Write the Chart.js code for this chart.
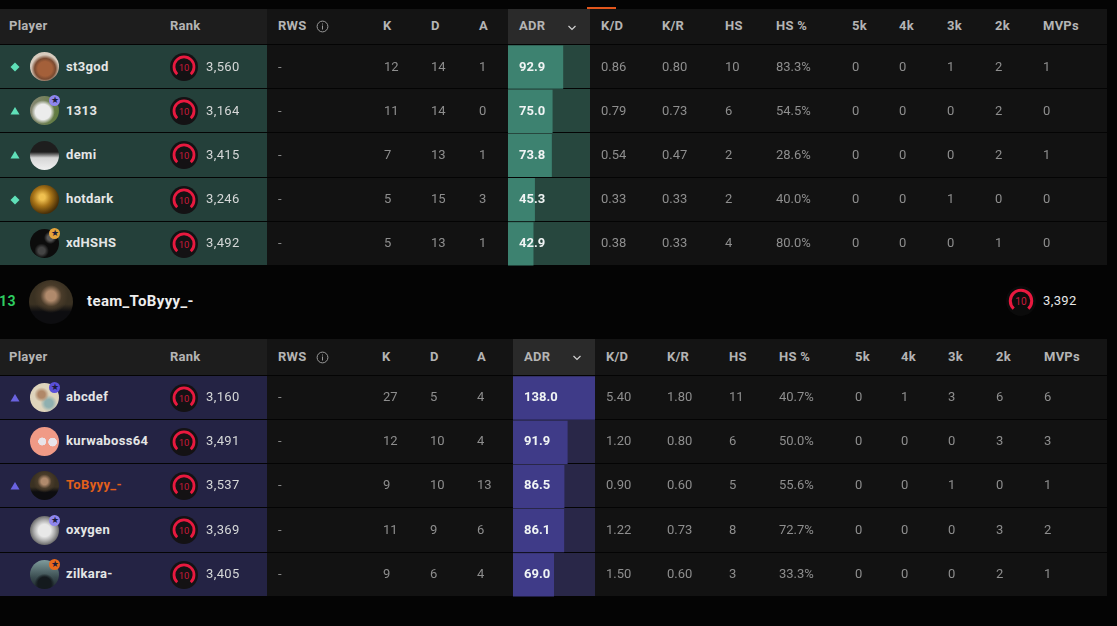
<!DOCTYPE html>
<html>
<head>
<meta charset="utf-8">
<script src="https://cdn.jsdelivr.net/npm/chart.js@4/dist/chart.umd.min.js"></script>
<style>
  html, body { margin: 0; padding: 0; background: #040404; }
  #page { position: relative; width: 1117px; height: 626px; overflow: hidden; font-family: Roboto, sans-serif; font-size: 13px; }
  #page div, #page svg, #page canvas { position: absolute; }
  .txt { white-space: nowrap; line-height: 16px; color: #8e8e8e; z-index: 5; }
  .head { color: #b4b4b4; font-weight: 700; letter-spacing: 0.25px; }
  .name { color: #e4e6e6; font-weight: 700; letter-spacing: 0.35px; }
  .rank { color: #d6d8d8; letter-spacing: 0.4px; }
  .adr { color: #f0f4f4; font-weight: 700; }
  .avatar { border-radius: 50%; }
  .badge { border-radius: 50%; z-index: 3; color: #1b1b3a; font-size: 9px; line-height: 11px; text-align: center; }
</style>
</head>
<body>
<div id="page"></div>
<script>
// top team
const topPlayers = ["st3god", "1313", "demi", "hotdark", "xdHSHS"];
const topRanks = ["3,560", "3,164", "3,415", "3,246", "3,492"];
const topKills = [12, 11, 7, 5, 5];
const topDeaths = [14, 14, 13, 15, 13];
const topAssists = [1, 0, 1, 3, 1];
const topAdr = [92.9, 75.0, 73.8, 45.3, 42.9];
const topKd = ["0.86", "0.79", "0.54", "0.33", "0.38"];
const topKr = ["0.80", "0.73", "0.47", "0.33", "0.33"];
const topHs = [10, 6, 2, 2, 4];
const topHsPct = ["83.3%", "54.5%", "28.6%", "40.0%", "80.0%"];
const top5k = [0, 0, 0, 0, 0];
const top4k = [0, 0, 0, 0, 0];
const top3k = [1, 0, 0, 1, 0];
const top2k = [2, 2, 2, 0, 1];
const topMvps = [1, 0, 1, 0, 0];
const topMarks = ["diamond", "up", "up", "diamond", ""];

// bottom team
const botPlayers = ["abcdef", "kurwaboss64", "ToByyy_-", "oxygen", "zilkara-"];
const botRanks = ["3,160", "3,491", "3,537", "3,369", "3,405"];
const botKills = [27, 12, 9, 11, 9];
const botDeaths = [5, 10, 10, 9, 6];
const botAssists = [4, 4, 13, 6, 4];
const botAdr = [138.0, 91.9, 86.5, 86.1, 69.0];
const botKd = ["5.40", "1.20", "0.90", "1.22", "1.50"];
const botKr = ["1.80", "0.80", "0.60", "0.73", "0.60"];
const botHs = [11, 6, 5, 8, 3];
const botHsPct = ["40.7%", "50.0%", "55.6%", "72.7%", "33.3%"];
const bot5k = [0, 0, 0, 0, 0];
const bot4k = [1, 0, 0, 0, 0];
const bot3k = [3, 0, 1, 0, 0];
const bot2k = [6, 3, 0, 3, 2];
const botMvps = [6, 3, 1, 2, 1];
const botMarks = ["up", "", "up", "", ""];

const headers = ["Player", "Rank", "RWS", "K", "D", "A", "ADR", "K/D", "K/R", "HS", "HS %", "5k", "4k", "3k", "2k", "MVPs"];
const teamName = "team_ToByyy_-";
const teamScore = "13";
const teamRank = "3,392";
const adrMax = 138;

// looks of the little pictures, keyed by player
const tobyLook = "radial-gradient(circle at 50% 36%,#b08a6c 0 14%,#4a3c2a 30%,transparent 48%),linear-gradient(#3a3122 0 55%,#0d0d10 72%)";
const avatarLook = {
  "st3god": "radial-gradient(circle at 52% 58%,#a4603a 0 32%,#7a4a30 46%,transparent 62%),#d8ccbe",
  "1313": "radial-gradient(circle at 45% 55%,#ececec 0 34%,transparent 52%),linear-gradient(100deg,#8a8878,#5c7a3a)",
  "demi": "linear-gradient(#1e1e1e 0 38%,#d6d6d6 58%,#f0f0f0)",
  "hotdark": "radial-gradient(circle at 42% 42%,#efc050 0 12%,#a87418 38%,#4a3008 70%,#201404)",
  "xdHSHS": "radial-gradient(circle at 70% 30%,#555 0 10%,transparent 22%),radial-gradient(circle at 40% 75%,#444 0 12%,transparent 26%),#0c0c0c",
  "abcdef": "radial-gradient(circle at 40% 40%,#b08868 0 14%,transparent 30%),radial-gradient(circle at 65% 70%,#8fb0b0 0 14%,transparent 30%),#ded4bc",
  "kurwaboss64": "radial-gradient(circle at 42% 50%,#e8e4ea 0 17%,transparent 19%),radial-gradient(circle at 78% 52%,#e8e4ea 0 15%,transparent 17%),#f09a86",
  "ToByyy_-": tobyLook,
  "oxygen": "radial-gradient(circle at 50% 50%,#e8e8e8 0 30%,#b0b0b0 50%,#3a3a3a 85%)",
  "zilkara-": "radial-gradient(circle at 50% 82%,#141a1e 0 24%,transparent 36%),linear-gradient(#7f9c9c,#3a4c50 60%,#1c2428)"
};
const badgeLook = { "1313": "#8f86ee", "xdHSHS": "#e6a53c", "abcdef": "#5a4fd8", "oxygen": "#8f86ee", "zilkara-": "#e8691c" };

const page = document.getElementById("page");

function add(cls, x, y, text, css) {
  const d = document.createElement("div");
  d.className = cls;
  d.style.left = x + "px";
  d.style.top = y + "px";
  if (text !== undefined && text !== null) d.textContent = text;
  if (css) d.style.cssText += css;
  page.appendChild(d);
  return d;
}

function box(x, y, w, h, color) {
  return add("", x, y, null, "width:" + w + "px;height:" + h + "px;background:" + color);
}

function rankIcon(cx, cy, size, disc) {
  const s = document.createElementNS("http://www.w3.org/2000/svg", "svg");
  s.setAttribute("width", size);
  s.setAttribute("height", size);
  s.setAttribute("viewBox", "0 0 28 28");
  s.style.left = (cx - size / 2) + "px";
  s.style.top = (cy - size / 2) + "px";
  s.style.zIndex = 3;
  s.innerHTML = '<circle cx="14" cy="14" r="14" fill="' + disc + '"/>' +
    '<path d="M7.2 21.2 A10 10 0 1 1 20.8 21.2" fill="none" stroke="#e8193f" stroke-width="2.8"/>' +
    '<text x="14" y="17.5" text-anchor="middle" font-family="Roboto" font-size="9.5" fill="#c81a3a">10</text>';
  page.appendChild(s);
}

function marker(kind, cx, cy, color) {
  if (!kind) return;
  const s = document.createElementNS("http://www.w3.org/2000/svg", "svg");
  s.setAttribute("width", 10);
  s.setAttribute("height", 10);
  s.style.left = (cx - 5) + "px";
  s.style.top = (cy - 5) + "px";
  const pts = kind === "diamond" ? "5,0.5 9.5,5 5,9.5 0.5,5" : "5,1 9.5,8.5 0.5,8.5";
  s.innerHTML = '<polygon points="' + pts + '" fill="' + color + '"/>';
  page.appendChild(s);
}

function infoIcon(cx, cy) {
  const s = document.createElementNS("http://www.w3.org/2000/svg", "svg");
  s.setAttribute("width", 13);
  s.setAttribute("height", 13);
  s.style.left = (cx - 6.5) + "px";
  s.style.top = (cy - 6.5) + "px";
  s.innerHTML = '<circle cx="6.5" cy="6.5" r="5.4" fill="none" stroke="#9a9a9a"/><rect x="6" y="5.5" width="1" height="4" fill="#9a9a9a"/><rect x="6" y="3.5" width="1" height="1" fill="#9a9a9a"/>';
  page.appendChild(s);
}

function chevron(cx, cy) {
  const s = document.createElementNS("http://www.w3.org/2000/svg", "svg");
  s.setAttribute("width", 10);
  s.setAttribute("height", 8);
  s.style.left = (cx - 5) + "px";
  s.style.top = (cy - 4) + "px";
  s.innerHTML = '<path d="M1.5 2 L5 5.5 L8.5 2" fill="none" stroke="#d0d0d0" stroke-width="1.2"/>';
  page.appendChild(s);
}

function drawTable(t) {
  // header band
  box(0, t.headTop, 267, t.headH, "#1d1d1d");
  box(267, t.headTop, 840, t.headH, "#141414");
  box(t.adrX, t.headTop, 82, t.headH, "#2a2a2a");
  const hy = Math.floor(t.headTop + t.headH / 2 - 8);
  headers.forEach(function (h, i) {
    add("txt head", t.cols[i], hy, h);
  });
  infoIcon(322, t.headTop + t.headH / 2);
  chevron(t.adrX + 64, t.headTop + t.headH / 2 + 1);

  // rows
  t.players.forEach(function (p, i) {
    const y = t.rowTops[i], h = t.rowTops[i + 1] - y - 1, mid = y + h / 2;
    const ty = t.textTops[i];
    box(0, y, 267, h, t.rowColor);
    box(267, y, 840, h, "#121212");
    box(t.adrX, y, 82, h, t.trackColor);
    marker(t.marks[i], 15, mid, t.markColor);
    add("avatar", 30, mid - 14.5, null, "width:29px;height:29px;background:" + avatarLook[p]);
    if (badgeLook[p]) add("badge", 49, mid - 15.5, "★", "width:11px;height:11px;background:" + badgeLook[p]);
    add("txt name", 66, ty, p, p === "ToByyy_-" ? "color:#e2601a" : "");
    rankIcon(184, mid, 28, "#141214");
    add("txt rank", 206, ty, t.ranks[i]);
    add("txt", 278, ty, "-");
    add("txt", t.cols[3] + 1, ty, t.kills[i]);
    add("txt", t.cols[4], ty, t.deaths[i]);
    add("txt", t.cols[5], ty, t.assists[i]);
    add("txt adr", t.cols[6], ty, t.adr[i].toFixed(1));
    add("txt", t.cols[7], ty, t.kd[i]);
    add("txt", t.cols[8], ty, t.kr[i]);
    add("txt", t.cols[9], ty, t.hs[i]);
    add("txt", t.cols[10], ty, t.hsPct[i]);
    add("txt", t.cols[11], ty, t.k5[i]);
    add("txt", t.cols[12], ty, t.k4[i]);
    add("txt", t.cols[13], ty, t.k3[i]);
    add("txt", t.cols[14], ty, t.k2[i]);
    add("txt", t.cols[15], ty, t.mvps[i]);
  });

  // ADR bars
  const top = t.rowTops[0], height = t.rowTops[5] - top;
  const c = document.createElement("canvas");
  c.style.left = t.adrX + "px";
  c.style.top = top + "px";
  c.style.zIndex = 2;
  c.width = 82;
  c.height = height;
  page.appendChild(c);
  new Chart(c.getContext("2d"), {
    type: "bar",
    data: {
      labels: t.players,
      datasets: [{
        label: "ADR",
        data: t.adr,
        backgroundColor: t.barColor,
        borderWidth: 0,
        categoryPercentage: 1,
        barPercentage: 0.977
      }]
    },
    options: {
      indexAxis: "y",
      responsive: false,
      animation: false,
      devicePixelRatio: 1,
      layout: { padding: 0 },
      plugins: { legend: { display: false }, tooltip: { enabled: false } },
      scales: {
        x: { display: false, min: 0, max: adrMax },
        y: { display: false }
      }
    }
  });
}

drawTable({
  headTop: 9, headH: 35, adrX: 508,
  cols: [9, 170, 278, 383, 431, 479, 519, 601, 662, 725, 776, 852, 899, 947, 995, 1043],
  rowTops: [45, 89, 133, 178, 222, 266],
  textTops: [59, 103, 147, 191, 235],
  rowColor: "#24403a", trackColor: "#27473e", barColor: "#3d8270", markColor: "#5fe0b8",
  players: topPlayers, ranks: topRanks, kills: topKills, deaths: topDeaths, assists: topAssists,
  adr: topAdr, kd: topKd, kr: topKr, hs: topHs, hsPct: topHsPct,
  k5: top5k, k4: top4k, k3: top3k, k2: top2k, mvps: topMvps,
  marks: topMarks
});

drawTable({
  headTop: 339, headH: 36, adrX: 513,
  cols: [9, 170, 278, 382, 430, 477, 524, 606, 667, 729, 779, 855, 901, 948, 996, 1044],
  rowTops: [376, 420, 464, 508, 553, 597],
  textTops: [389, 433, 477, 522, 566],
  rowColor: "#242344", trackColor: "#292748", barColor: "#3f3b88", markColor: "#6a63e0",
  players: botPlayers, ranks: botRanks, kills: botKills, deaths: botDeaths, assists: botAssists,
  adr: botAdr, kd: botKd, kr: botKr, hs: botHs, hsPct: botHsPct,
  k5: bot5k, k4: bot4k, k3: bot3k, k2: bot2k, mvps: botMvps,
  marks: botMarks
});

// orange tab above the ADR column
box(587, 7, 29, 2, "#e2561c");

// team line between the tables
add("txt", -1, 293, teamScore, "color:#2ecc60;font-weight:700;font-size:14px;letter-spacing:0.5px");
add("avatar", 29, 280, null, "width:44px;height:44px;background:" + tobyLook);
add("txt name", 87, 293, teamName, "font-size:15px;color:#eeeeee");
rankIcon(1021, 301, 30, "#0b0b0b");
add("txt rank", 1043, 293, teamRank, "color:#e8e8e8");
</script>
</body>
</html>
